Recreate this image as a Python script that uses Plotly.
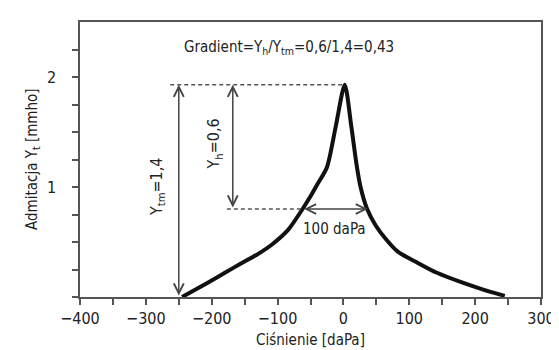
import plotly.graph_objects as go

# Tympanogram curve (pressure daPa, admittance mmho)
pressure = [-245, -206, -180, -157, -130, -108, -84, -62, -50, -40, -25, -12, 2,
            12, 20, 26, 36, 49, 64, 83, 113, 142, 181, 211, 245]
admittance = [0.0, 0.13, 0.22, 0.30, 0.39, 0.48, 0.61, 0.80, 0.915, 1.02, 1.18, 1.54, 1.93,
              1.55, 1.2, 1.0, 0.80, 0.65, 0.53, 0.41, 0.31, 0.22, 0.13, 0.07, 0.01]

x_tickvals = [-400, -350, -300, -250, -200, -150, -100, -50, 0, 50, 100, 150, 200, 250, 300]
x_ticktext = ["−400", "", "−300", "", "−200", "", "−100", "", "0", "", "100", "", "200", "", "300"]
y_tickvals = [0, 0.25, 0.5, 0.75, 1, 1.25, 1.5, 1.75, 2, 2.25]
y_ticktext = ["", "", "", "", "1", "", "", "", "2", ""]

peak_y = 1.93
half_y = 0.80
ytm_x = -250
yh_x = -168
w_left, w_right = -62, 37

FONT = "DejaVu Sans Condensed, Liberation Sans Narrow, sans-serif"
AX = "#555555"
ARR = "#444444"

fig = go.Figure()
fig.add_trace(go.Scatter(x=pressure, y=admittance, mode="lines",
                         line=dict(color="#111111", width=4, shape="spline", smoothing=0.7),
                         showlegend=False, hoverinfo="skip"))
# dashed guides
fig.add_trace(go.Scatter(x=[-263, 2], y=[peak_y, peak_y], mode="lines",
                         line=dict(color="#555555", width=1.4, dash="4px,3px"), showlegend=False))
fig.add_trace(go.Scatter(x=[-177, w_left], y=[half_y, half_y], mode="lines",
                         line=dict(color="#555555", width=1.4, dash="4px,3px"), showlegend=False))

def darrow(x0, y0, x1, y1):
    fig.add_annotation(x=x1, y=y1, ax=x0, ay=y0, xref="x", yref="y", axref="x", ayref="y",
                       text="", showarrow=True, arrowhead=5, startarrowhead=5,
                       arrowside="end+start", arrowwidth=1.5, arrowsize=1.3,
                       startarrowsize=1.3, arrowcolor=ARR)

darrow(ytm_x, 0, ytm_x, peak_y)
darrow(yh_x, half_y, yh_x, peak_y)
darrow(w_left, half_y, w_right, half_y)

tf = dict(family=FONT, size=15, color="#222222")
rf = dict(family=FONT, size=16, color="#222222")
fig.add_annotation(x=-83, y=2.27, text="Gradient=Y<sub>h</sub>/Y<sub>tm</sub>=0,6/1,4=0,43",
                   showarrow=False, font=tf)
fig.add_annotation(x=-283, y=1.0, text="Y<sub>tm</sub>=1,4", textangle=-90,
                   showarrow=False, font=rf)
fig.add_annotation(x=-196, y=1.39, text="Y<sub>h</sub>=0,6", textangle=-90,
                   showarrow=False, font=rf)
fig.add_annotation(x=-13, y=0.62, text="100 daPa", showarrow=False, font=tf)
# y-axis title
fig.add_annotation(xref="paper", yref="paper", x=-0.103, y=0.5, xanchor="center", yanchor="middle",
                   text="Admitacja Y<sub>t</sub> [mmho]", textangle=-90, showarrow=False,
                   font=dict(family=FONT, size=15, color="#222222"))

fig.update_layout(
    width=559, height=350,
    margin=dict(l=72, r=12, t=12, b=57),
    paper_bgcolor="white", plot_bgcolor="white",
    font=dict(family=FONT, size=16, color="#222222"),
    xaxis=dict(range=[-400, 300], tickvals=x_tickvals, ticktext=x_ticktext,
               showgrid=False, zeroline=False, showline=True, linecolor=AX, linewidth=1.5,
               mirror=True, ticks="outside", ticklen=6, tickcolor=AX, tickwidth=1.5,
               title=dict(text="Ciśnienie [daPa]", standoff=8,
                          font=dict(family=FONT, size=15, color="#222222"))),
    yaxis=dict(range=[0, 2.5], tickvals=y_tickvals, ticktext=y_ticktext,
               showgrid=False, zeroline=False, showline=True, linecolor=AX, linewidth=1.5,
               mirror=True, ticks="outside", ticklen=6, tickcolor=AX, tickwidth=1.5,
               ticklabelstandoff=13),
)

fig.write_html("out.html")
